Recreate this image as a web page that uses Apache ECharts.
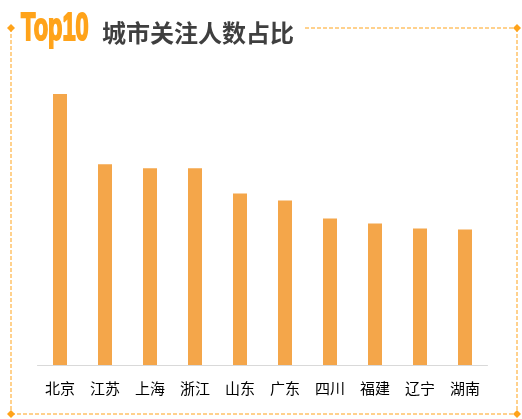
<!DOCTYPE html>
<html><head><meta charset="utf-8">
<script src="https://cdn.jsdelivr.net/npm/echarts@6/dist/echarts.min.js"></script>
<style>html,body{margin:0;padding:0;background:#fff}#c{width:522px;height:419px}</style>
</head><body><div id="c"></div>
<script>
const categories = ['北京','江苏','上海','浙江','山东','广东','四川','福建','辽宁','湖南'];
const values = [13.5, 10.0, 9.8, 9.8, 8.55, 8.2, 7.3, 7.05, 6.8, 6.75];
const titleLead = 'Top10';
const titleMain = '城市关注人数占比';

const chart = echarts.init(document.getElementById('c'));
const orange = '#FFA31A';
const dash = { stroke: orange, lineWidth: 1, lineDash: [4, 2] };
function diamond(cx, cy) {
  return { type: 'polygon', shape: { points: [[cx, cy - 4], [cx + 4, cy], [cx, cy + 4], [cx - 4, cy]] }, style: { fill: orange } };
}
chart.setOption({
  animation: false,
  grid: { left: 37.5, right: 34.5, top: 64, bottom: 54 },
  xAxis: {
    type: 'category', data: categories,
    axisTick: { show: false },
    axisLine: { lineStyle: { color: '#d9d9d9', width: 1 } },
    axisLabel: { color: '#000', fontSize: 15, margin: 16, fontFamily: 'Noto Sans CJK SC' }
  },
  yAxis: { type: 'value', min: 0, max: 15, show: false, splitLine: { show: false } },
  series: [{ type: 'bar', data: values, barWidth: 14, itemStyle: { color: '#F4A64A' } }],
  graphic: [
    { type: 'line', shape: { x1: 305, y1: 28, x2: 517, y2: 28 }, style: dash },
    { type: 'line', shape: { x1: 11, y1: 28, x2: 11, y2: 414 }, style: dash },
    { type: 'line', shape: { x1: 517, y1: 28, x2: 517, y2: 414 }, style: dash },
    { type: 'line', shape: { x1: 11, y1: 414, x2: 517, y2: 414 }, style: dash },
    diamond(11, 28), diamond(517, 28), diamond(11, 414), diamond(517, 414),
    { type: 'text', x: 21, y: 30, scaleX: 0.62, style: { text: titleLead, x: 0, y: 0, fill: orange, stroke: orange, lineWidth: 2, font: 'bold 38px "Liberation Sans"', textVerticalAlign: 'middle' } },
    { type: 'text', x: 102, y: 33, style: { text: titleMain, x: 0, y: 0, fill: '#3f3f3f', font: 'bold 24px "Noto Sans CJK SC"', textVerticalAlign: 'middle' } }
  ]
});
</script></body></html>
